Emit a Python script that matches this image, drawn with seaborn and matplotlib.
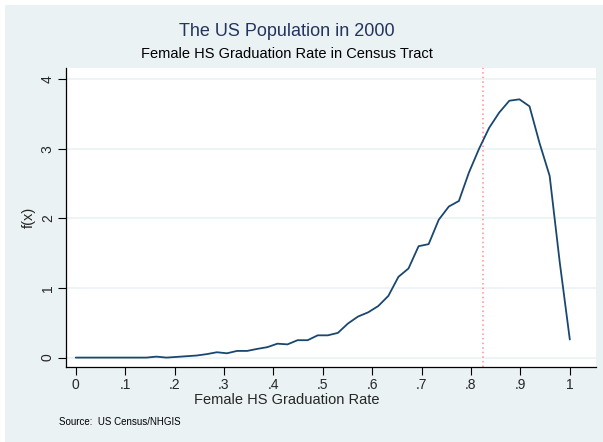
import pandas as pd
import seaborn as sns
import matplotlib
matplotlib.use("Agg")
import matplotlib.pyplot as plt
from matplotlib.patches import Rectangle

# kernel density estimate, 50 grid points between 0 and 1
grad_rate = [round(i / 49, 4) for i in range(50)]
density = [0.0, 0.0, 0.0, 0.0, 0.0, 0.0, 0.0, 0.0, 0.014, 0.0,
           0.01, 0.02, 0.03, 0.05, 0.077, 0.062, 0.096, 0.096, 0.125, 0.15,
           0.2, 0.19, 0.25, 0.25, 0.32, 0.32, 0.355, 0.49, 0.59, 0.65,
           0.74, 0.886, 1.16, 1.28, 1.60, 1.63, 1.98, 2.17, 2.25, 2.66,
           3.0, 3.30, 3.52, 3.69, 3.71, 3.61, 3.08, 2.61, 1.37, 0.26]
mean_rate = 0.825
x_ticks = [0, 0.1, 0.2, 0.3, 0.4, 0.5, 0.6, 0.7, 0.8, 0.9, 1.0]
x_tick_labels = ["0", ".1", ".2", ".3", ".4", ".5", ".6", ".7", ".8", ".9", "1"]
y_ticks = [0, 1, 2, 3, 4]

df = pd.DataFrame({"rate": grad_rate, "fx": density})

bg = "#eaf2f3"
navy = "#1a476f"
title_col = "#23345f"

sns.set_style("white")
plt.rcParams["font.family"] = ["Liberation Sans", "DejaVu Sans"]

fig = plt.figure(figsize=(6.03, 4.42), dpi=100, facecolor="white")
fig.patches.append(Rectangle((5 / 603, 0), 1, 1 - 5 / 442, transform=fig.transFigure,
                             facecolor=bg, edgecolor="none", zorder=-10))
ax = fig.add_axes([66 / 603, 1 - 367 / 442, (596 - 66) / 603, (367 - 68) / 442])
ax.set_facecolor("white")

for y in y_ticks:
    ax.axhline(y, color=bg, linewidth=1.2, zorder=0)

sns.lineplot(data=df, x="rate", y="fx", ax=ax, color=navy, linewidth=1.3, zorder=3)
ax.axvline(mean_rate, color="#ff8f8f", linestyle=(0, (1, 2)), linewidth=1.1, zorder=2)

ax.set_xlim(-0.0197, 1.053)
ax.set_ylim(-0.135, 4.16)
ax.set_xticks(x_ticks)
ax.set_xticklabels(x_tick_labels, fontsize=10)
ax.set_yticks(y_ticks)
ax.set_yticklabels([str(v) for v in y_ticks], fontsize=10, rotation=90, va="center")
ax.tick_params(axis="both", direction="out", length=6, width=0.8, color="black",
               left=True, bottom=True, pad=2)
for side in ["top", "right"]:
    ax.spines[side].set_visible(False)
for side in ["left", "bottom"]:
    ax.spines[side].set_color("black")
    ax.spines[side].set_linewidth(0.9)

ax.set_xlabel("Female HS Graduation Rate", fontsize=10.5)
ax.xaxis.set_label_coords((287 - 66) / 530, -0.088)
ax.set_ylabel("f(x)", fontsize=10.5, labelpad=4)

fig.text(287 / 603, 1 - 32 / 442, "The US Population in 2000", ha="center", va="center",
         fontsize=13, color=title_col)
fig.text(287 / 603, 1 - 54 / 442, "Female HS Graduation Rate in Census Tract", ha="center",
         va="center", fontsize=10.5, color="black")
fig.text(59 / 603, 1 - 422 / 442, "Source:  US Census/NHGIS", ha="left", va="center",
         fontsize=7, color="black")

plt.savefig("out.png", dpi=100, facecolor="white")
